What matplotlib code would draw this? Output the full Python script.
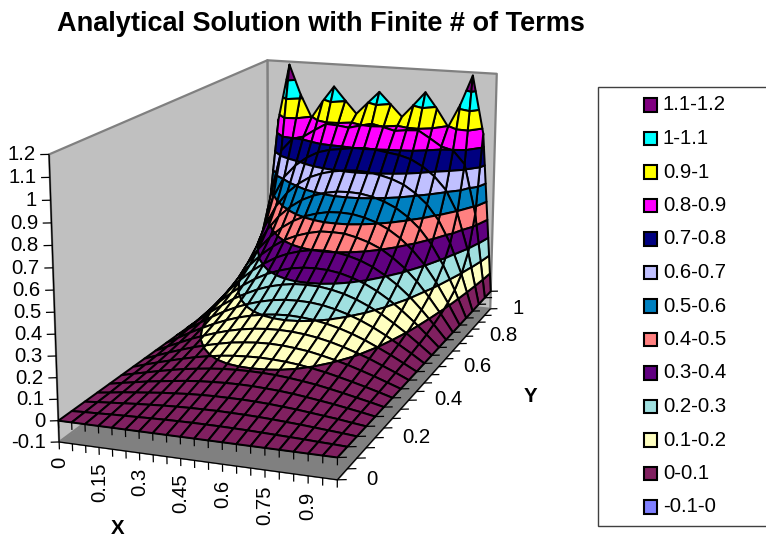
import matplotlib
matplotlib.use('Agg')
import matplotlib.pyplot as plt
from matplotlib.patches import Rectangle
from mpl_toolkits.mplot3d import proj3d
from mpl_toolkits.mplot3d.art3d import Poly3DCollection, Line3DCollection

plt.rcParams['font.family'] = ['Liberation Sans', 'DejaVu Sans']
plt.rcParams['font.size'] = 14.7

x_vals = [0, 0.05, 0.1, 0.15, 0.2, 0.25, 0.3, 0.35, 0.4, 0.45, 0.5, 0.55, 0.6, 0.65, 0.7, 0.75, 0.8, 0.85, 0.9, 0.95, 1]
y_vals = [0, 0.05, 0.1, 0.15, 0.2, 0.25, 0.3, 0.35, 0.4, 0.45, 0.5, 0.55, 0.6, 0.65, 0.7, 0.75, 0.8, 0.85, 0.9, 0.95, 1]

# one row per y value
z_rows = [
    [0, 0, 0, 0, 0, 0, 0, 0, 0, 0, 0, 0, 0, 0, 0, 0, 0, 0, 0, 0, 0],
    [0, .003, .005, .008, .010, .012, .014, .016, .017, .018, .018, .018, .017, .016, .014, .012, .010, .008, .005, .003, 0],
    [0, .006, .011, .016, .021, .025, .029, .032, .034, .035, .036, .035, .034, .032, .029, .025, .021, .016, .011, .006, 0],
    [0, .008, .017, .024, .031, .038, .043, .048, .051, .053, .053, .053, .051, .048, .043, .038, .031, .024, .017, .008, 0],
    [0, .012, .023, .034, .043, .052, .060, .066, .070, .073, .074, .073, .070, .066, .060, .052, .043, .034, .023, .012, 0],
    [0, .015, .029, .043, .056, .068, .077, .085, .091, .094, .095, .094, .091, .085, .077, .068, .056, .043, .029, .015, 0],
    [0, .019, .037, .054, .070, .085, .097, .107, .114, .118, .120, .118, .114, .107, .097, .085, .070, .054, .037, .019, 0],
    [0, .023, .046, .067, .087, .104, .119, .132, .140, .146, .148, .146, .140, .132, .119, .104, .087, .067, .046, .023, 0],
    [0, .029, .056, .083, .106, .127, .145, .159, .169, .175, .177, .175, .169, .159, .145, .127, .106, .083, .056, .029, 0],
    [0, .034, .068, .099, .128, .153, .174, .190, .202, .209, .212, .209, .202, .190, .174, .153, .128, .099, .068, .034, 0],
    [0, .042, .081, .119, .153, .182, .206, .225, .239, .247, .249, .247, .239, .225, .206, .182, .153, .119, .081, .042, 0],
    [0, .050, .098, .142, .183, .216, .245, .267, .282, .292, .294, .292, .282, .267, .245, .216, .183, .142, .098, .050, 0],
    [0, .060, .118, .171, .218, .258, .290, .314, .332, .342, .345, .342, .332, .314, .290, .258, .218, .171, .118, .060, 0],
    [0, .073, .143, .207, .261, .305, .342, .369, .388, .400, .403, .400, .388, .369, .342, .305, .261, .207, .143, .073, 0],
    [0, .090, .174, .250, .313, .363, .404, .432, .452, .466, .468, .466, .452, .432, .404, .363, .313, .250, .174, .090, 0],
    [0, .113, .217, .306, .376, .432, .474, .505, .525, .538, .541, .538, .525, .505, .474, .432, .376, .306, .217, .113, 0],
    [0, .145, .274, .379, .457, .514, .557, .586, .606, .618, .621, .618, .606, .586, .557, .514, .457, .379, .274, .145, 0],
    [0, .196, .358, .476, .557, .612, .653, .678, .694, .704, .708, .704, .694, .678, .653, .612, .557, .476, .358, .196, 0],
    [0, .283, .492, .611, .680, .728, .762, .780, .789, .799, .804, .799, .789, .780, .762, .728, .680, .611, .492, .283, 0],
    [0, .460, .727, .797, .814, .855, .893, .889, .881, .897, .911, .897, .881, .889, .893, .855, .814, .797, .727, .460, 0],
    [0, .873, 1.183, 1.022, .896, .992, 1.077, 1.004, .934, .999, 1.063, .999, .934, 1.004, 1.077, .992, .896, 1.022, 1.183, .873, 0],
]

levels = [-0.1, 0, 0.1, 0.2, 0.3, 0.4, 0.5, 0.6, 0.7, 0.8, 0.9, 1, 1.1, 1.2]
band_labels = ['-0.1-0', '0-0.1', '0.1-0.2', '0.2-0.3', '0.3-0.4', '0.4-0.5', '0.5-0.6',
               '0.6-0.7', '0.7-0.8', '0.8-0.9', '0.9-1', '1-1.1', '1.1-1.2']
band_colors = ['#8080FF', '#802060', '#FFFFC0', '#A0E0E0', '#600080', '#FF8080', '#0080C0',
               '#C0C0FF', '#000080', '#FF00FF', '#FFFF00', '#00FFFF', '#800080']
z_ticks = [-0.1, 0, 0.1, 0.2, 0.3, 0.4, 0.5, 0.6, 0.7, 0.8, 0.9, 1, 1.1, 1.2]
x_tick_labels = ['0', '0.15', '0.3', '0.45', '0.6', '0.75', '0.9']
y_tick_labels = ['0', '0.2', '0.4', '0.6', '0.8', '1']


def clip_poly(poly, level, keep_above):
    # cut a polygon with a horizontal plane
    out = []
    for k in range(len(poly)):
        p, q = poly[k], poly[(k + 1) % len(poly)]
        p_in = p[2] >= level if keep_above else p[2] <= level
        q_in = q[2] >= level if keep_above else q[2] <= level
        if p_in:
            out.append(p)
        if p_in != q_in:
            t = (level - p[2]) / (q[2] - p[2])
            out.append((p[0] + t * (q[0] - p[0]), p[1] + t * (q[1] - p[1]), level))
    return out


def band_pieces():
    polys, colors = [], []
    for j in range(len(y_vals) - 1):
        for i in range(len(x_vals) - 1):
            cell = [(x_vals[i], y_vals[j], z_rows[j][i]),
                    (x_vals[i + 1], y_vals[j], z_rows[j][i + 1]),
                    (x_vals[i + 1], y_vals[j + 1], z_rows[j + 1][i + 1]),
                    (x_vals[i], y_vals[j + 1], z_rows[j + 1][i])]
            zs = [c[2] for c in cell]
            for b in range(len(band_colors)):
                lo, hi = levels[b], levels[b + 1]
                if max(zs) <= lo or min(zs) >= hi:
                    continue
                piece = clip_poly(clip_poly(cell, lo, True), hi, False)
                if len(piece) >= 3:
                    polys.append(piece)
                    colors.append(band_colors[b])
    return polys, colors


fig = plt.figure(figsize=(7.66, 5.44), dpi=100)

# camera fitted to the corners of the reference box
s, cx, cy = 3453.6, 297.57, 241.37
side = s * 0.185
left = cx - s * 0.095
bottom = 544 - (cy + s * 0.095)
ax = fig.add_axes([left / 766, bottom / 544, side / 766, side / 544], projection='3d', computed_zorder=False)
ax.set_xlim(0, 1)
ax.set_ylim(0, 1)
ax.set_zlim(-0.1, 1.2)
ax.set_xticks([])
ax.set_yticks([])
ax.set_zticks([])
ax.set_box_aspect((0.9989, 2.0137, 1.0))
ax.view_init(elev=14.85, azim=-70.17)
ax.set_proj_type('persp', focal_length=0.5389)
ax.set_axis_off()
ax.patch.set_visible(False)

# walls and floor
z0, z1 = z_ticks[0], z_ticks[-1]
walls = [[(0, 0, z0), (0, 1, z0), (0, 1, z1), (0, 0, z1)],
         [(0, 1, z0), (1, 1, z0), (1, 1, z1), (0, 1, z1)]]
ax.add_collection3d(Poly3DCollection(walls, facecolors='#C0C0C0', edgecolors='#808080', linewidths=1.6, zorder=1))
floor = [[(0, 0, z0), (1, 0, z0), (1, 1, z0), (0, 1, z0)]]
ax.add_collection3d(Poly3DCollection(floor, facecolors='#808080', edgecolors='#808080', linewidths=0.5, zorder=2))

# axis lines and tick marks
ticks = [[(0, 0, z0), (0, 0, z1)], [(0, 0, z0), (1, 0, z0)], [(1, 0, z0), (1, 1, z0)],
         [(0, 0, 0), (1, 0, 0)], [(1, 0, 0), (1, 1, 0)]]
for v in x_vals:
    ticks.append([(v, 0, z0), (v, 0, z0 - 0.035)])
    ticks.append([(v, 0, 0), (v, 0, -0.035)])
for v in y_vals:
    ticks.append([(1, v, z0), (1.028, v + 0.006, z0)])
    ticks.append([(1, v, 0), (1.028, v + 0.006, 0)])
for v in z_ticks:
    ticks.append([(0, 0, v), (-0.026, -0.006, v)])
ax.add_collection3d(Line3DCollection(ticks, colors='black', linewidths=0.9, zorder=3))

# surface, band pieces carry the grid and the contour lines as their edges
polys, colors = band_pieces()
ax.add_collection3d(Poly3DCollection(polys, facecolors=colors, edgecolors='black', linewidths=1.45,
                                     zsort='average', zorder=4))

# tick labels, text3d drops rotation so place them on the projected point
M = ax.get_proj()
for v in z_ticks:
    xd, yd, _ = proj3d.proj_transform(-0.04, -0.009, v, M)
    ax.text2D(xd, yd, '%g' % v, ha='right', va='center', color='black', transform=ax.transData)
for k, lab in enumerate(x_tick_labels):
    xd, yd, _ = proj3d.proj_transform(k * 0.15, 0, z0 - 0.07, M)
    ax.text2D(xd, yd, lab, rotation=90, ha='center', va='top', color='black', transform=ax.transData)
for k, lab in enumerate(y_tick_labels):
    xd, yd, _ = proj3d.proj_transform(1.086, k * 0.2 + 0.019, z0, M)
    ax.text2D(xd, yd, lab, ha='left', va='center', color='black', transform=ax.transData)

# overlay in pixels for title, axis titles and legend
over = fig.add_axes([0, 0, 1, 1], zorder=5)
over.set_xlim(0, 766)
over.set_ylim(544, 0)
over.set_xticks([])
over.set_yticks([])
over.axis('off')
over.text(321, 24, 'Analytical Solution with Finite # of Terms', fontsize=19.5, fontweight='bold', ha='center', va='center')
over.text(118, 528, 'X', fontweight='bold', ha='center', va='center')
over.text(530, 396, 'Y', fontweight='bold', ha='center', va='center')

over.add_patch(Rectangle((598, 87), 180, 439, facecolor='white', edgecolor='#404040', linewidth=1))
for k, lab in enumerate(band_labels[::-1]):
    yy = 105 + k * 33.5
    over.add_patch(Rectangle((643.5, yy - 7), 13, 13.5, facecolor=band_colors[::-1][k], edgecolor='black', linewidth=1.5))
    over.text(663, yy, lab, ha='left', va='center')

fig.savefig('out.png', dpi=100)
